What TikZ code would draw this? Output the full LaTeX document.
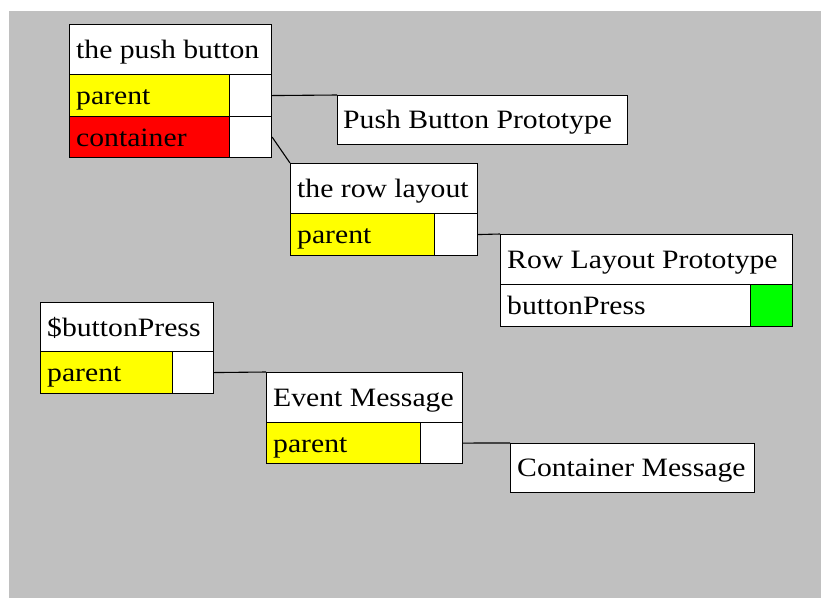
\documentclass[tikz,border=0pt]{standalone}
\usepackage{fontspec}
\setmainfont{Liberation Serif}[FakeStretch=1.12]
\usetikzlibrary{calc}
\definecolor{panel}{HTML}{C0C0C0}
\definecolor{slotyellow}{HTML}{FFFF00}
\definecolor{slotred}{HTML}{FF0000}
\definecolor{slotgreen}{HTML}{00FF00}
\begin{document}
\begin{tikzpicture}[x=1pt,y=-1pt,
  cell/.style={draw=black, line width=1.1pt, fill=white, anchor=north west, inner sep=0pt},
  lbl/.style={anchor=base west, inner sep=0pt, font=\fontsize{26.5}{30}\selectfont},
  link/.style={draw=black, line width=1.1pt}]
  \useasboundingbox (0,0) rectangle (821,598);
  \fill[panel] (9,11) rectangle (821,598);

  % the push button
  \node[cell, minimum width=202pt, minimum height=50pt] (pbh) at (69,24) {};
  \node[cell, fill=slotyellow, minimum width=160pt, minimum height=42pt] (pbp) at (69,74) {};
  \node[cell, minimum width=42pt, minimum height=42pt] (pbpc) at (229,74) {};
  \node[cell, fill=slotred, minimum width=160pt, minimum height=41pt] (pbc) at (69,116) {};
  \node[cell, minimum width=42pt, minimum height=41pt] (pbcc) at (229,116) {};
  \node[lbl] (pbht) at ($(pbh.west)+(7,9)$) {the push button};
  \node[lbl] (pbpt) at ($(pbp.west)+(7,9)$) {parent};
  \node[lbl] (pbct) at ($(pbc.west)+(7,9)$) {container};

  % Push Button Prototype
  \node[cell, minimum width=290pt, minimum height=49pt] (pbproto) at (337,95) {};
  \node[lbl] (pbprotot) at ($(pbproto.west)+(6,8)$) {Push Button Prototype};

  % the row layout
  \node[cell, minimum width=187pt, minimum height=50pt] (rlh) at (290,163) {};
  \node[cell, fill=slotyellow, minimum width=144pt, minimum height=42pt] (rlp) at (290,213) {};
  \node[cell, minimum width=43pt, minimum height=42pt] (rlpc) at (434,213) {};
  \node[lbl] (rlht) at ($(rlh.west)+(7,9)$) {the row layout};
  \node[lbl] (rlpt) at ($(rlp.west)+(7,9)$) {parent};

  % Row Layout Prototype
  \node[cell, minimum width=292pt, minimum height=50pt] (rlproto) at (500,234) {};
  \node[cell, minimum width=250pt, minimum height=42pt] (rlbp) at (500,284) {};
  \node[cell, fill=slotgreen, minimum width=42pt, minimum height=42pt] (rlbpc) at (750,284) {};
  \node[lbl] (rlprotot) at ($(rlproto.west)+(7,9)$) {Row Layout Prototype};
  \node[lbl] (rlbpt) at ($(rlbp.west)+(7,9)$) {buttonPress};

  % $buttonPress
  \node[cell, minimum width=173pt, minimum height=49pt] (bph) at (40,302) {};
  \node[cell, fill=slotyellow, minimum width=132pt, minimum height=42pt] (bpp) at (40,351) {};
  \node[cell, minimum width=41pt, minimum height=42pt] (bppc) at (172,351) {};
  \node[lbl] (bpht) at ($(bph.west)+(7,9)$) {\$buttonPress};
  \node[lbl] (bppt) at ($(bpp.west)+(7,9)$) {parent};

  % Event Message
  \node[cell, minimum width=196pt, minimum height=50pt] (emh) at (266,372) {};
  \node[cell, fill=slotyellow, minimum width=154pt, minimum height=41pt] (emp) at (266,422) {};
  \node[cell, minimum width=42pt, minimum height=41pt] (empc) at (420,422) {};
  \node[lbl] (emht) at ($(emh.west)+(7,9)$) {Event Message};
  \node[lbl] (empt) at ($(emp.west)+(7,9)$) {parent};

  % Container Message
  \node[cell, minimum width=244pt, minimum height=49pt] (cm) at (510,443) {};
  \node[lbl] (cmt) at ($(cm.west)+(7,8)$) {Container Message};

  % slot links
  \draw[link] (pbpc.east) -- (pbproto.north west);
  \draw[link] (pbcc.east) -- (rlh.north west);
  \draw[link] (rlpc.east) -- (rlproto.north west);
  \draw[link] (bppc.east) -- (emh.north west);
  \draw[link] (empc.east) -- (cm.north west);
\end{tikzpicture}
\end{document}
